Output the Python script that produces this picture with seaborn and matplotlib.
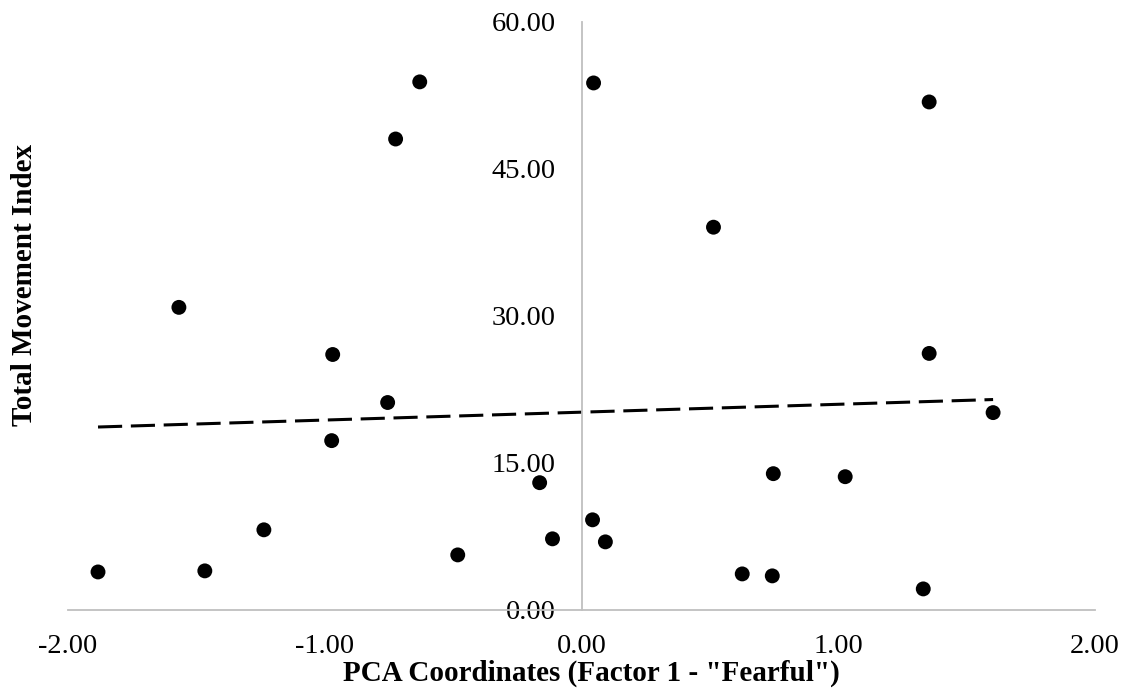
import matplotlib
matplotlib.use("Agg")
import matplotlib.pyplot as plt
import seaborn as sns
import numpy as np
import pandas as pd

# PCA factor 1 scores and movement index per subject
pca_factor1 = [-1.883, -1.568, -1.467, -1.237, -0.969, -0.973, -0.755, -0.724,
               -0.630, -0.482, -0.163, -0.113, 0.043, 0.047, 0.093, 0.514,
               0.626, 0.743, 0.747, 1.027, 1.331, 1.354, 1.354, 1.603]
movement_index = [3.88, 30.88, 3.99, 8.18, 26.07, 17.28, 21.17, 48.06,
                  53.89, 5.62, 12.99, 7.26, 9.20, 53.78, 6.95, 39.06,
                  3.68, 3.48, 13.91, 13.60, 2.15, 51.84, 26.18, 20.14]

x_ticks = [-2.0, -1.0, 0.0, 1.0, 2.0]
y_ticks = [0.0, 15.0, 30.0, 45.0, 60.0]

df = pd.DataFrame({"pca": pca_factor1, "movement": movement_index})

sns.set_theme(style="white")
plt.rcParams["font.family"] = ["Liberation Serif", "DejaVu Serif"]

fig = plt.figure(figsize=(11.31, 6.96), dpi=100)
ax = fig.add_axes([0.0601, 0.1236, 0.9081, 0.8448])

sns.regplot(data=df, x="pca", y="movement", ax=ax, ci=None, truncate=True,
            scatter_kws=dict(s=115, color="black", edgecolor="none", alpha=1, zorder=3),
            line_kws=dict(color="black", lw=2.2, dashes=(7.9, 2.85), zorder=2))

ax.set_xlim(-2, 2)
ax.set_ylim(0, 60)
ax.set_xticks(x_ticks)
ax.set_yticks(y_ticks)
ax.set_xticklabels([f"{v:.2f}" for v in x_ticks])
ax.set_yticklabels([f"{v:.2f}" for v in y_ticks])

for side in ("top", "right"):
    ax.spines[side].set_visible(False)
ax.spines["left"].set_position(("data", 0))
ax.spines["left"].set_color("#bfbfbf")
ax.spines["bottom"].set_color("#bfbfbf")
ax.spines["left"].set_linewidth(1.3)
ax.spines["bottom"].set_linewidth(1.3)

ax.tick_params(axis="both", length=0, labelsize=20.5, colors="black")
ax.tick_params(axis="y", pad=18.5)
ax.tick_params(axis="x", pad=17.5)

ax.set_xlabel("PCA Coordinates (Factor 1 - \"Fearful\")", fontsize=21,
              fontweight="bold", color="black")
ax.set_ylabel("Total Movement Index", fontsize=21, fontweight="bold", color="black")
ax.xaxis.set_label_coords(0.510, -0.107)
ax.xaxis.label.set_va("center")
ax.yaxis.set_label_coords(-0.0425, 0.553)
ax.yaxis.label.set_va("center")

fig.savefig("out.png", dpi=100, facecolor="white")
